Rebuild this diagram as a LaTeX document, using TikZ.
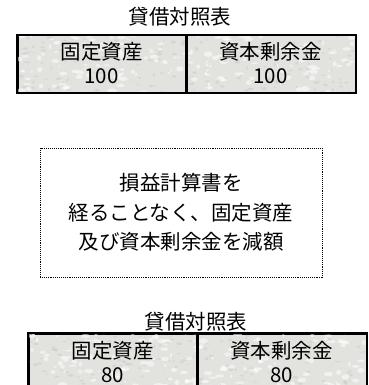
\documentclass[tikz,border=0pt]{standalone}
\usepackage{fontspec}
\setmainfont{Noto Sans CJK JP}
\definecolor{cellfill}{RGB}{226,226,222}
\newcommand{\txtfont}{\fontsize{20.5pt}{24.5pt}\selectfont}
\newcommand{\notefont}{\fontsize{20.5pt}{29.5pt}\selectfont}
\newcommand{\mottle}[5]{%
  \begin{scope}
    \clip (#1,#2) rectangle ++(#3,#4);
    \foreach \i in {1,...,#5} {
      \fill[white,opacity=.55] ({#1+rnd*#3},{#2+rnd*#4}) ellipse[x radius={1+rnd*4}, y radius={0.8+rnd*2}];
    }
    \foreach \i in {1,...,#5} {
      \fill[black!30,opacity=.25] ({#1+rnd*#3},{#2+rnd*#4}) ellipse[x radius={0.6+rnd*2.5}, y radius={0.5+rnd*1.2}];
    }
  \end{scope}}
\tikzset{
  cellbox/.style={draw=black, line width=1.5pt, fill=cellfill, minimum width=169pt, minimum height=57pt, inner sep=0pt, anchor=north west},
  celltext/.style={inner sep=0pt, align=center, font=\txtfont},
  ttl/.style={inner sep=0pt, font=\txtfont},
  note/.style={draw=black, densely dotted, line width=0.9pt, minimum width=282pt, minimum height=129pt, align=center, inner sep=0pt, font=\notefont}
}
\begin{document}
\begin{tikzpicture}[x=1pt,y=-1pt]
\pgfmathsetseed{11}
\useasboundingbox (0,0) rectangle (368,385);
\clip (0,0) rectangle (368,385);
% top balance sheet
\node[ttl] (t1) at (180,17) {貸借対照表};
\node[cellbox] (a1) at (17,35) {};
\node[cellbox] (b1) at (186,35) {};
\mottle{17}{35}{338}{57}{170}
\draw[line width=1.5pt] (a1.north west) rectangle (a1.south east);
\draw[line width=1.5pt] (b1.north west) rectangle (b1.south east);
\node[celltext] (a1t) at (101.5,63.25) {固定資産\\100};
\node[celltext] (b1t) at (270.5,63.25) {資本剰余金\\100};
% note
\node[note] (n) at (181,212.5) {損益計算書を\\経ることなく、固定資産\\及び資本剰余金を減額};
% bottom balance sheet
\node[ttl] (t2) at (196,322) {貸借対照表};
\node[cellbox, minimum height=65pt] (a2) at (28,333) {};
\node[cellbox, minimum height=65pt] (b2) at (197,333) {};
\mottle{28}{333}{338}{65}{190}
\draw[line width=1.5pt] (a2.north west) rectangle (a2.south east);
\draw[line width=1.5pt] (b2.north west) rectangle (b2.south east);
\node[celltext] (a2t) at (112.5,362) {固定資産\\80};
\node[celltext] (b2t) at (281.5,362) {資本剰余金\\80};
\end{tikzpicture}
\end{document}
